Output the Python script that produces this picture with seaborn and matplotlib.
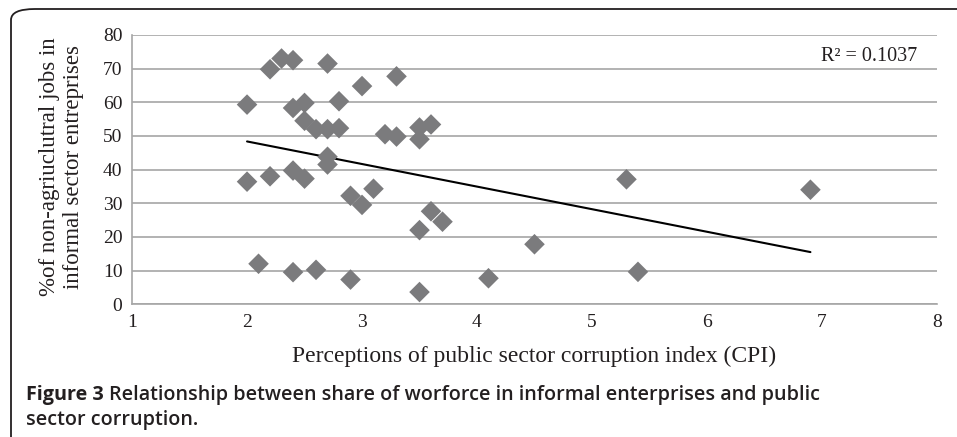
import numpy as np
import pandas as pd
import matplotlib
matplotlib.use("Agg")
import matplotlib.pyplot as plt
import seaborn as sns
from matplotlib.patches import FancyBboxPatch

# values
cpi = [2.0, 2.0, 2.1, 2.2, 2.2, 2.3, 2.4, 2.4, 2.4, 2.4,
       2.5, 2.5, 2.5, 2.6, 2.6, 2.7, 2.7, 2.7, 2.7, 2.8,
       2.8, 2.9, 2.9, 3.0, 3.0, 3.1, 3.2, 3.3, 3.3, 3.5,
       3.5, 3.5, 3.5, 3.6, 3.6, 3.7, 4.1, 4.5, 5.3, 5.4, 6.9]
informal = [59.3, 36.4, 12.0, 69.8, 38.0, 73.0, 72.5, 58.3, 39.7, 9.5,
            59.8, 54.5, 37.3, 52.0, 10.2, 71.5, 52.0, 43.8, 41.5, 60.3,
            52.3, 32.2, 7.3, 64.8, 29.5, 34.3, 50.5, 67.7, 49.8, 52.5,
            49.0, 22.0, 3.6, 53.4, 27.6, 24.5, 7.7, 17.8, 37.1, 9.6, 34.0]

df = pd.DataFrame({"cpi": cpi, "informal": informal})

sns.set_style("white")
plt.rcParams["font.family"] = ["Liberation Serif", "DejaVu Serif"]

fig = plt.figure(figsize=(9.57, 4.37), dpi=100)
ax = fig.add_axes([0.138, 0.304, 0.841, 0.616])

sns.scatterplot(data=df, x="cpi", y="informal", marker="D", s=110,
                color="#7b7b7d", edgecolor="none", ax=ax, zorder=3)
sns.regplot(data=df, x="cpi", y="informal", scatter=False, ci=None,
            color="black", line_kws={"lw": 1.5}, ax=ax)

ax.set_xlim(1, 8)
ax.set_ylim(0, 80)
ax.set_xticks(range(1, 9))
ax.set_yticks(range(0, 81, 10))
ax.yaxis.grid(True, color="#a6a6a6", lw=1.2)
ax.set_axisbelow(True)
for side in ["top", "right"]:
    ax.spines[side].set_visible(False)
for side in ["left", "bottom"]:
    ax.spines[side].set_color("#a6a6a6")
    ax.spines[side].set_linewidth(1.2)
ax.tick_params(axis="both", length=5, width=1.2, colors="#a6a6a6",
               labelsize=14, pad=2)
for lab in ax.get_xticklabels() + ax.get_yticklabels():
    lab.set_color("#231f20")

ax.set_xlabel("Perceptions of public sector corruption index (CPI)",
              fontsize=17, color="#231f20", labelpad=11)
ax.set_ylabel("%of non-agriuclutral jobs in\ninformal sector entreprises",
              fontsize=16.5, color="#231f20", linespacing=1.2)
ax.yaxis.set_label_coords(-0.06, 0.51)

ax.text(0.975, 0.92, "R² = 0.1037", transform=ax.transAxes, ha="right",
        va="center", fontsize=14.5, color="#231f20")

# caption: bold figure number, lighter title after it
cap_font = ["Open Sans", "Liberation Sans", "DejaVu Sans"]
head = fig.text(0.027, 0.097, "Figure 3", fontsize=14.2, fontweight="bold",
                family=cap_font, color="#231f20", va="center")
fig.canvas.draw()
bb = head.get_window_extent().transformed(fig.transFigure.inverted())
fig.text(bb.x1 + 0.006, 0.097,
         "Relationship between share of worforce in informal enterprises and public",
         fontsize=14.2, fontweight="semibold", family=cap_font, color="#231f20",
         va="center")
fig.text(0.027, 0.04, "sector corruption.", fontsize=14.2, fontweight="semibold",
         family=cap_font, color="#231f20", va="center")

# frame around the figure, open at right and bottom
box = FancyBboxPatch((11 / 957, -0.2), 1.2, 1.2 - 9 / 437,
                     boxstyle="round,pad=0,rounding_size=0.025",
                     transform=fig.transFigure, fill=False,
                     edgecolor="#231f20", lw=1.3, clip_on=False)
fig.patches.append(box)

fig.savefig("out.png", dpi=100)
